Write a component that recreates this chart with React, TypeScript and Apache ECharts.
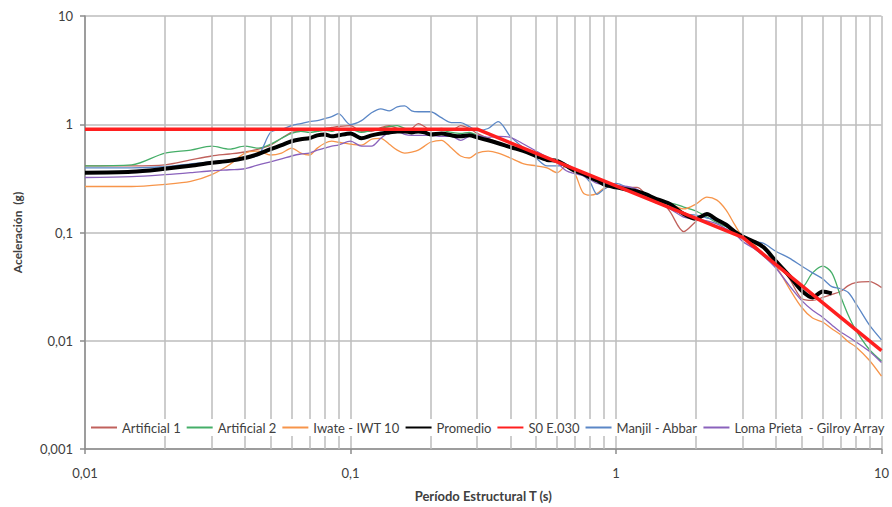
import React, { useEffect, useRef } from "react";
import * as echarts from "echarts";

const periods = [0.01,0.015,0.02,0.025,0.03,0.035,0.04,0.045,0.05,0.055,0.06,0.065,0.07,0.075,0.08,0.085,0.09,0.1,0.11,0.12,0.13,0.14,0.15,0.16,0.17,0.18,0.19,0.2,0.22,0.24,0.26,0.28,0.3,0.33,0.36,0.4,0.45,0.5,0.55,0.6,0.65,0.7,0.75,0.8,0.85,0.9,1,1.1,1.2,1.3,1.4,1.5,1.6,1.8,2,2.2,2.4,2.6,2.8,3,3.3,3.6,4,4.5,5,5.5,6,6.5,7,7.5,8,9,10];

const artificial1 = [0.413,0.413,0.422,0.468,0.509,0.531,0.554,0.589,0.641,0.742,
0.841,0.859,0.877,0.877,0.914,0.933,0.953,0.973,0.859,0.859,
0.933,0.973,0.914,0.895,0.914,1.015,0.953,0.877,0.914,0.877,
0.973,0.914,0.823,0.742,0.682,0.628,0.577,0.520,0.488,0.449,
0.413,0.380,0.350,0.328,0.302,0.284,0.272,0.261,0.261,0.225,
0.199,0.187,0.155,0.102,0.126,0.145,0.131,0.118,0.104,0.0918,
0.0827,0.0714,0.0544,0.0374,0.0246,0.0236,0.0251,0.0268,0.0285,0.0323,
0.0344,0.0351,0.0310];

const artificial2 = [0.413,0.422,0.542,0.577,0.628,0.589,0.628,0.602,0.654,0.742,
0.823,0.859,0.841,0.859,0.877,0.859,0.895,0.895,0.841,0.877,
0.914,0.953,0.973,0.914,0.895,0.895,0.877,0.877,0.877,0.841,
0.823,0.841,0.790,0.727,0.654,0.628,0.577,0.531,0.478,0.459,
0.422,0.380,0.357,0.335,0.308,0.284,0.261,0.250,0.235,0.221,
0.199,0.187,0.187,0.172,0.158,0.139,0.123,0.113,0.102,0.0937,
0.0827,0.0714,0.0544,0.0398,0.0310,0.0424,0.0490,0.0424,0.0262,0.0172,
0.0126,0.0083,0.0065];

const iwate = [0.266,0.266,0.278,0.296,0.342,0.422,0.542,0.565,0.520,0.542,
0.602,0.542,0.520,0.602,0.668,0.697,0.682,0.654,0.641,0.727,
0.742,0.654,0.577,0.542,0.554,0.577,0.628,0.682,0.711,0.602,
0.509,0.488,0.542,0.565,0.542,0.488,0.431,0.413,0.396,0.357,
0.413,0.350,0.235,0.221,0.230,0.256,0.272,0.250,0.235,0.216,
0.203,0.195,0.183,0.165,0.183,0.212,0.199,0.161,0.118,0.0918,
0.0777,0.0630,0.0490,0.0303,0.0204,0.0162,0.0149,0.0129,0.0114,0.0098,
0.0088,0.0066,0.0047];

const promedio = [0.357,0.364,0.388,0.413,0.440,0.459,0.488,0.531,0.589,0.641,
0.697,0.727,0.742,0.790,0.806,0.773,0.790,0.823,0.742,0.790,
0.823,0.841,0.859,0.859,0.841,0.859,0.841,0.806,0.823,0.790,
0.773,0.790,0.757,0.711,0.668,0.615,0.565,0.509,0.468,0.459,
0.413,0.372,0.350,0.322,0.302,0.278,0.261,0.250,0.240,0.225,
0.207,0.195,0.183,0.148,0.134,0.148,0.131,0.118,0.102,0.0918,
0.0827,0.0729,0.0544,0.0398,0.0291,0.0251,0.0285,0.0273,null,null,
null,null,null];

const manjil = [0.396,0.396,0.405,0.431,0.449,0.468,0.488,0.520,0.841,0.895,
0.973,1.015,1.058,1.080,1.126,1.175,1.251,0.994,1.080,1.277,
1.388,1.331,1.447,1.478,1.331,1.304,1.304,1.304,1.150,1.036,
1.036,0.953,0.877,0.914,1.058,0.773,0.602,0.488,0.413,0.413,
0.422,0.380,0.342,0.290,0.225,0.250,0.284,0.261,0.230,0.212,
0.191,0.179,0.168,0.148,0.145,0.136,0.131,0.118,0.102,0.0918,
0.0827,0.0793,0.0671,0.0580,0.0490,0.0424,0.0374,0.0316,0.0303,0.0279,
0.0222,0.0140,0.0102];

const lomaPrieta = [0.322,0.328,0.342,0.357,0.372,0.380,0.388,0.422,0.449,0.478,
0.509,0.531,0.542,0.577,0.602,0.628,0.641,0.697,0.628,0.628,
0.742,0.841,0.859,0.806,0.790,0.790,0.790,0.790,0.773,0.773,
0.711,0.773,0.790,0.757,0.773,0.757,0.654,0.565,0.499,0.440,
0.372,0.350,0.335,0.308,0.284,0.278,0.272,0.266,0.250,0.212,
0.191,0.179,0.165,0.139,0.134,0.128,0.120,0.108,0.0977,0.0827,
0.0714,0.0604,0.0470,0.0323,0.0236,0.0191,0.0165,0.0140,0.0121,0.0109,
0.0098,0.0080,0.0063];

const e030Periods = [0.01, 0.3, 3, 10];
const e030Values = [0.9, 0.9, 0.09, 0.0081];

const minorPeriods = [0.02,0.03,0.04,0.05,0.06,0.07,0.08,0.09,0.2,0.3,0.4,0.5,0.6,0.7,0.8,0.9,2,3,4,5,6,7,8,9];

const xTickLabels = ["0,01", "0,1", "1", "10"];
const yTickLabels = ["0,001", "0,01", "0,1", "1", "10"];

const seriesNames = ["Artificial 1", "Artificial 2", "Iwate - IWT 10", "Promedio", "S0 E.030", "Manjil - Abbar", "Loma Prieta  - Gilroy Array"];
const seriesColors = ["#C0615C", "#45AE68", "#F7954A", "#000000", "#FF1F1F", "#5B87C6", "#8A62BC"];

const FONT = "Lato, 'Noto Sans', sans-serif";
const TEXT = "#404040";
const GRID = "#BDBDBD";

function pairs(xs: number[], ys: (number | null)[]) {
  return xs.map((x, i) => [x, ys[i]]);
}

export default function App() {
  const ref = useRef<HTMLDivElement>(null);
  useEffect(() => {
    if (!ref.current) return;
    const chart = echarts.init(ref.current, null, { renderer: "svg" });
    const thin = (name: string, idx: number, vals: (number | null)[]) => ({
      name,
      type: "line",
      data: pairs(periods, vals),
      showSymbol: false,
      symbol: "none",
      smooth: 0.3,
      connectNulls: false,
      lineStyle: { width: 1.3, color: seriesColors[idx] },
      itemStyle: { color: seriesColors[idx] },
      z: 3,
    });
    const option: any = {
      animation: false,
      backgroundColor: "#ffffff",
      textStyle: { fontFamily: FONT },
      grid: { left: 85, right: 6, top: 16, bottom: 51, containLabel: false },
      legend: {
        data: seriesNames,
        left: 88,
        top: 419,
        width: 800,
        itemWidth: 26,
        itemHeight: 12,
        itemGap: 5,
        padding: [2, 2],
        z: 20,
        backgroundColor: "#ffffff",
        itemStyle: { opacity: 0 },
        textStyle: { fontFamily: FONT, fontSize: 13, color: TEXT },
      },
      xAxis: {
        type: "log",
        logBase: 10,
        min: 0.01,
        max: 10,
        splitNumber: 3,
        name: "Período Estructural T (s)",
        nameLocation: "middle",
        nameGap: 40,
        nameTextStyle: { fontFamily: FONT, fontSize: 13, fontWeight: "bold", color: TEXT },
        axisLine: { show: true, lineStyle: { color: "#8C8C8C", width: 1.5 } },
        axisTick: { show: true, length: 5, lineStyle: { color: "#8C8C8C", width: 1.5 } },
        axisLabel: {
          margin: 17,
          fontFamily: FONT,
          fontSize: 13,
          color: TEXT,
          formatter: (v: number) => xTickLabels[Math.round(Math.log10(v)) + 2] ?? "",
        },
        splitLine: { show: true, lineStyle: { color: GRID, width: 1.5 } },
      },
      yAxis: {
        type: "log",
        logBase: 10,
        min: 0.001,
        max: 10,
        splitNumber: 4,
        name: "Aceleración  (g)",
        nameLocation: "middle",
        nameGap: 62,
        nameTextStyle: { fontFamily: FONT, fontSize: 12, fontWeight: "bold", color: TEXT },
        axisLine: { show: true, lineStyle: { color: "#8C8C8C", width: 1.5 } },
        axisTick: { show: true, length: 5, lineStyle: { color: "#8C8C8C", width: 1.5 } },
        axisLabel: {
          margin: 12,
          fontFamily: FONT,
          fontSize: 13,
          color: TEXT,
          formatter: (v: number) => yTickLabels[Math.round(Math.log10(v)) + 3] ?? "",
        },
        splitLine: { show: true, lineStyle: { color: GRID, width: 1.5 } },
      },
      series: [
        {
          name: "_grid",
          type: "line",
          data: [],
          symbol: "none",
          z: 1,
          markLine: {
            silent: true,
            symbol: "none",
            label: { show: false },
            lineStyle: { color: GRID, width: 1.5, type: "solid" },
            data: minorPeriods.map((p) => ({ xAxis: p })),
            animation: false,
          },
        },
        thin(seriesNames[0], 0, artificial1),
        thin(seriesNames[1], 1, artificial2),
        thin(seriesNames[2], 2, iwate),
        {
          name: seriesNames[3],
          type: "line",
          data: pairs(periods, promedio),
          showSymbol: false,
          symbol: "none",
          smooth: 0.3,
          connectNulls: false,
          lineStyle: { width: 4, color: seriesColors[3] },
          itemStyle: { color: seriesColors[3] },
          z: 4,
        },
        {
          name: seriesNames[4],
          type: "line",
          data: pairs(e030Periods, e030Values),
          showSymbol: false,
          symbol: "none",
          lineStyle: { width: 3.5, color: seriesColors[4] },
          itemStyle: { color: seriesColors[4] },
          z: 5,
        },
        thin(seriesNames[5], 5, manjil),
        thin(seriesNames[6], 6, lomaPrieta),
      ],
    };
    chart.setOption(option);
    return () => chart.dispose();
  }, []);
  return (
    <div
      ref={ref}
      style={{ position: "absolute", left: 0, top: 0, width: 892, height: 507, background: "#fff" }}
    />
  );
}
